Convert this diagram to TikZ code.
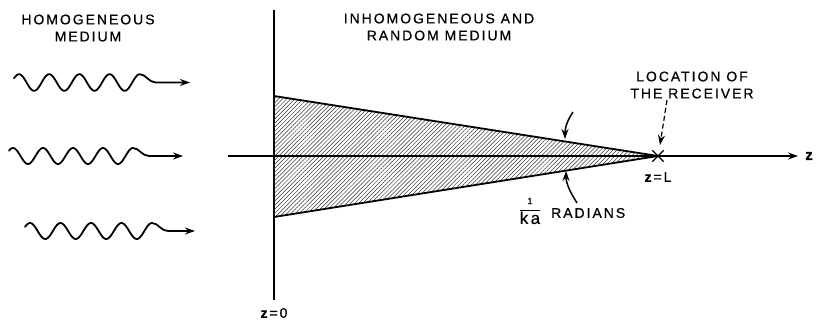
\documentclass[tikz,border=0pt]{standalone}
\usepackage{fontspec}
\newfontfamily\lettering[LetterSpace=14,FakeBold=0.6]{Liberation Sans}
\usetikzlibrary{arrows.meta,patterns.meta,shapes.misc}
\newcommand\wavearrow[7]{% #1 name, #2 start x, #3 first peak x, #4 period, #5 centre y, #6 amplitude, #7 tip x
  \pgfmathsetmacro\wlast{#3+4*#4}
  \pgfmathsetmacro\wk{360/#4}
  \coordinate (#1) at (#7,#5);
  \draw[wave,tip] plot[domain=#2:\wlast, samples=140, smooth] (\x,{#5-#6*cos(\wk*(\x-#3))})
    .. controls +(6,0) and +(-7,0) .. ({\wlast+16},#5) -- (#1);
}
\begin{document}
\begin{tikzpicture}[x=1pt,y=-1pt,
  lbl/.style={font=\lettering\fontsize{14}{17}\selectfont, align=center, inner sep=0pt},
  ln/.style={line width=1.5pt},
  edge/.style={line width=1.8pt},
  tip/.style={-{Stealth[length=10pt,width=7pt]}},
  wave/.style={line width=1.8pt, line join=round, line cap=round}]
\useasboundingbox (0,0) rectangle (816,320);

% incoming waves
\wavearrow{w1}{14}{19}{30.2}{82.5}{8.3}{190}
\wavearrow{w2}{9}{13}{30}{156}{8}{183}
\wavearrow{w3}{25}{30}{30.5}{231}{8}{195}

% boundary and axis
\coordinate (vt) at (274,10);
\coordinate (vb) at (274,300);
\coordinate (axl) at (228,156);
\coordinate (axr) at (798,156);
\draw[ln] (vt) -- (vb);

% hatched cone
\coordinate (top) at (274,96);
\coordinate (bot) at (274,217);
\coordinate (apex) at (658,156);
\fill[pattern={Lines[angle=45,distance=2.9pt,line width=0.5pt]}, pattern color=black!80] (top) -- (apex) -- (bot) -- cycle;
\draw[edge, line join=miter] (top) -- (apex) -- (bot);
\draw[ln,tip] (axl) -- (axr);

% receiver
\node[cross out, draw, minimum size=10pt, inner sep=0pt, line width=1.3pt] (rx) at (apex) {};

% labels
\node[lbl] (homog) at (88,28) {HOMOGENEOUS\\MEDIUM};
\node[lbl] (inhom) at (439,27) {INHOMOGENEOUS AND\\RANDOM MEDIUM};
\node[lbl] (loc) at (692,85) {LOCATION OF\\THE RECEIVER};
\node[lbl, font=\lettering\bfseries\fontsize{15}{17}\selectfont] (zax) at (809,156) {z};
\node[lbl] (zl) at (658,177) {\textbf{z}=L};
\node[lbl] (z0) at (274,313) {\textbf{z}=0};
\node[lbl, anchor=west] (rad) at (551,213) {RADIANS};
\node[lbl] (frac) at (530,211) {$\displaystyle\frac{\mbox{\fontsize{9}{9}\selectfont 1}}{\mbox{\fontsize{17}{17}\selectfont ka}}$};

% pointer to receiver
\coordinate (ds) at (667,100);
\coordinate (de) at (660,145);
\draw[line width=1.2pt, dash pattern=on 5pt off 3pt, tip] (ds) -- (de);

% angle arrows
\coordinate (ua) at (573,112);
\coordinate (ub) at (565,139);
\coordinate (la) at (577,203);
\coordinate (lb) at (566,171);
\draw[ln,tip] (ua) .. controls (567,121) and (565,128) .. (ub);
\draw[ln,tip] (la) .. controls (570,192) and (566,183) .. (lb);
\end{tikzpicture}
\end{document}
